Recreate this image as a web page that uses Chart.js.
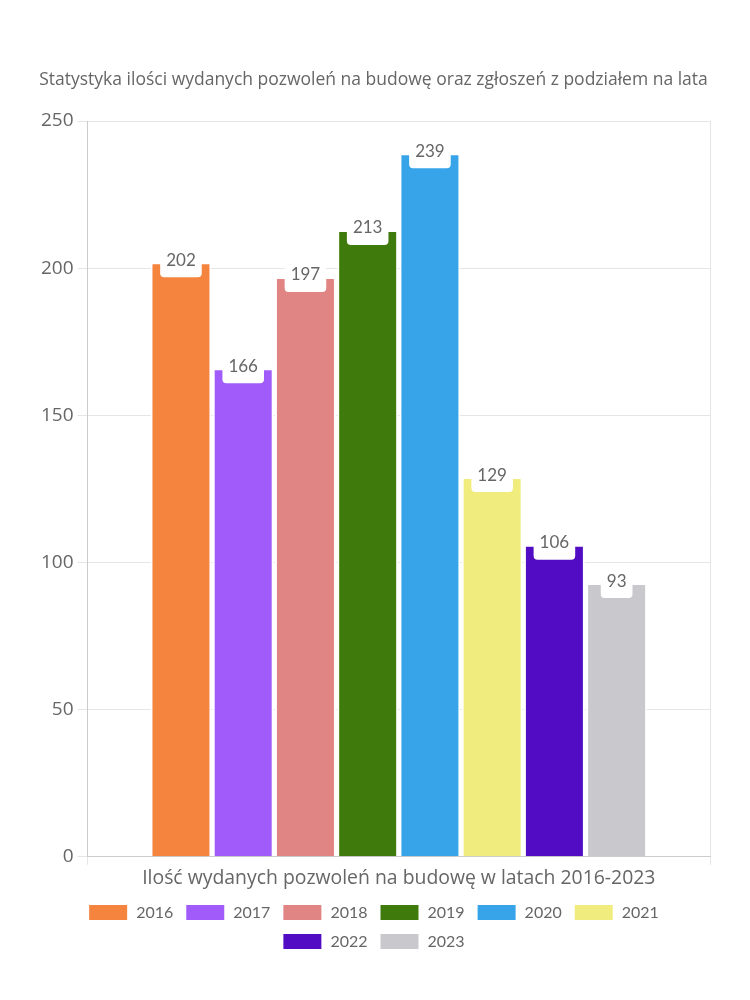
<!DOCTYPE html>
<html lang="pl">
<head>
<meta charset="utf-8">
<script src="https://cdn.jsdelivr.net/npm/chart.js@4"></script>
<style>
  html, body { margin: 0; padding: 0; background: #fff; }
  #wrap { width: 750px; height: 1000px; }
</style>
</head>
<body>
<div id="wrap"><canvas id="permitsChart"></canvas></div>
<script>
// dane z wykresu
const years = ["2016", "2017", "2018", "2019", "2020", "2021", "2022", "2023"];
const permits = [202, 166, 197, 213, 239, 129, 106, 93];
const colors = ["#F5843F", "#A15BFB", "#E18484", "#3F7B0C", "#37A4EA", "#F0EC7D", "#520CC4", "#C9C9CD"];
const category = ["Ilość wydanych pozwoleń na budowę w latach 2016-2023"];
const yTicks = [0, 50, 100, 150, 200, 250];

const FONT = "'Open Sans', sans-serif";
const GREY = "#666";

// biale etykiety z wartoscia na szczycie slupka
const valueLabels = {
  id: "valueLabels",
  afterDatasetsDraw(chart) {
    const ctx = chart.ctx;
    ctx.save();
    ctx.font = "17px Lato, sans-serif";
    ctx.textAlign = "center";
    ctx.textBaseline = "middle";
    chart.data.datasets.forEach((ds, i) => {
      const meta = chart.getDatasetMeta(i);
      meta.data.forEach((bar) => {
        const text = String(ds.data[0]);
        const w = ctx.measureText(text).width + 12;
        const h = 30;
        const x = bar.x - w / 2;
        const y = bar.y - h / 2;
        ctx.fillStyle = "#fff";
        ctx.beginPath();
        ctx.roundRect(x, y, w, h, 4);
        ctx.fill();
        ctx.fillStyle = GREY;
        ctx.fillText(text, bar.x, bar.y - 2);
      });
    });
    ctx.restore();
  },
};

const ctx = document.getElementById("permitsChart").getContext("2d");
new Chart(ctx, {
  type: "bar",
  data: {
    labels: category,
    datasets: years.map((year, i) => ({
      label: year,
      data: [permits[i]],
      backgroundColor: colors[i],
      borderColor: "#fff",
      borderWidth: 2,
      barPercentage: 0.98,
      categoryPercentage: 0.8,
    })),
  },
  options: {
    responsive: true,
    maintainAspectRatio: false,
    animation: false,
    layout: {
      padding: { left: 37, right: 40, top: 70, bottom: 40 },
    },
    plugins: {
      title: {
        display: true,
        text: "Statystyka ilości wydanych pozwoleń na budowę oraz zgłoszeń z podziałem na lata",
        color: GREY,
        font: { family: FONT, size: 17.5, weight: "normal" },
        padding: { top: 0, bottom: 30 },
      },
      legend: {
        position: "bottom",
        labels: {
          color: GREY,
          font: { family: "Lato, sans-serif", size: 16 },
          boxWidth: 40,
          boxHeight: 17,
          padding: 12,
        },
      },
      tooltip: { enabled: false },
    },
    scales: {
      x: {
        grid: {
          color: "#e5e5e5",
          tickLength: 8,
          offset: true,
        },
        border: { color: "#ccc" },
        ticks: {
          color: GREY,
          font: { family: FONT, size: 19.4 },
          padding: 2,
        },
      },
      y: {
        min: 0,
        max: 250,
        afterBuildTicks(axis) {
          axis.ticks = yTicks.map((v) => ({ value: v }));
        },
        grid: { color: "#e5e5e5", tickLength: 10 },
        border: { color: "#ccc" },
        ticks: {
          color: GREY,
          font: { family: FONT, size: 19 },
          padding: 4,
        },
      },
    },
  },
  plugins: [valueLabels],
});
</script>
</body>
</html>
